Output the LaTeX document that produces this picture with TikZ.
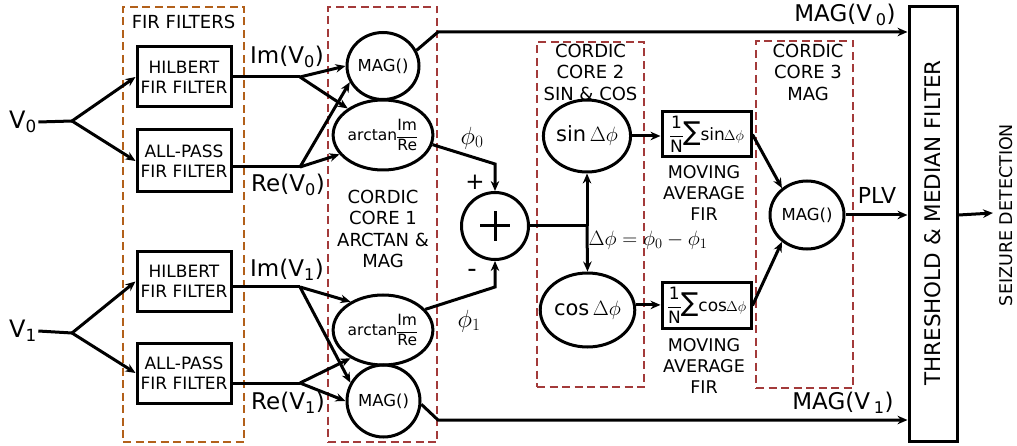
\documentclass[tikz,border=0pt]{standalone}
\usepackage{fontspec}
\setmainfont{DejaVu Sans}
\usetikzlibrary{shapes.geometric,arrows.meta}
\definecolor{firc}{RGB}{178,96,26}
\definecolor{cordc}{RGB}{163,58,58}
\begin{document}
\begin{tikzpicture}[x=1pt,y=-1pt,line width=3pt,
  >={Stealth[length=10pt,width=8.5pt]},
  fbox/.style={draw,line width=3pt,minimum width=94pt,inner sep=0pt,align=center,font=\fontsize{17}{20}\selectfont},
  ell/.style={draw,ellipse,inner sep=0pt,line width=3pt,font=\fontsize{16.5}{18}\selectfont},
  mabox/.style={draw,line width=3pt,minimum width=89pt,minimum height=45pt,inner sep=0pt,font=\fontsize{17}{17}\selectfont},
  grp/.style={draw,dash pattern=on 8pt off 4.5pt,line width=2.8pt,inner sep=0pt},
  lbl/.style={align=center,inner sep=0pt},
  sig/.style={inner sep=0pt,font=\fontsize{23}{25}\selectfont},
  glbl/.style={align=center,inner sep=0pt,font=\fontsize{18}{21.5}\selectfont},
  conn/.style={line width=3pt}]
\useasboundingbox (0,0) rectangle (1017,446);
% group boxes
\node[grp,draw=firc,minimum width=121pt,minimum height=435pt] (firg) at (183.5,224.5) {};
\node[grp,draw=cordc,minimum width=109pt,minimum height=435pt] (core1) at (382.5,224.5) {};
\node[grp,draw=cordc,minimum width=107pt,minimum height=345pt] (core2) at (590.5,214.5) {};
\node[grp,draw=cordc,minimum width=97pt,minimum height=347pt] (core3) at (804.5,214.5) {};
\node[glbl] (firl) at (183.5,22) {FIR FILTERS};
\node[glbl] (c1l) at (383,229) {CORDIC\\CORE 1\\ARCTAN \&\\MAG};
\node[glbl] (c2l) at (590.5,72) {CORDIC\\CORE 2\\SIN \& COS};
\node[glbl] (c3l) at (808,72) {CORDIC\\CORE 3\\MAG};
% inputs
\node[lbl,font=\fontsize{24}{26}\selectfont] (v0) at (23,122) {V\textsubscript{0}};
\node[lbl,font=\fontsize{24}{26}\selectfont] (v1) at (23,331) {V\textsubscript{1}};
\coordinate (b0) at (72,121);
\coordinate (b1) at (72,333);
% filter boxes
\node[fbox,minimum height=60pt] (hil0) at (184,77) {HILBERT\\FIR FILTER};
\node[fbox,minimum height=62pt] (ap0) at (184,161) {ALL-PASS\\FIR FILTER};
\node[fbox,minimum height=59pt] (hil1) at (184,281.5) {HILBERT\\FIR FILTER};
\node[fbox,minimum height=60pt] (ap1) at (184,373) {ALL-PASS\\FIR FILTER};
\coordinate (im0) at (300,77);
\coordinate (re0) at (300,167);
\coordinate (im1) at (300,287);
\coordinate (re1) at (300,383);
\node[sig] (im0l) at (287,57) {Im(V\textsubscript{0})};
\node[sig] (re0l) at (288,185) {Re(V\textsubscript{0})};
\node[sig] (im1l) at (287,270) {Im(V\textsubscript{1})};
\node[sig] (re1l) at (288,403) {Re(V\textsubscript{1})};
% cordic core 1
\node[ell,minimum width=72pt,minimum height=67pt] (mag0) at (383,66) {MAG()};
\node[ell,minimum width=83pt,minimum height=70pt,font=\fontsize{15.5}{17}\selectfont] (arc0) at (383,135) {arctan\hspace{-1pt}$\displaystyle\frac{\mbox{Im}}{\mbox{Re}}$};
\node[ell,minimum width=83pt,minimum height=70pt,font=\fontsize{15.5}{17}\selectfont] (arc1) at (383,330) {arctan\hspace{-1pt}$\displaystyle\frac{\mbox{Im}}{\mbox{Re}}$};
\node[ell,minimum width=73pt,minimum height=72pt] (mag1) at (383.5,401) {MAG()};
% sum
\node[draw,circle,minimum size=67pt,inner sep=0pt,line width=3pt,
  path picture={\draw[line width=3pt] (path picture bounding box.center) ++(-15pt,0pt) -- ++(30pt,0pt);
                \draw[line width=3pt] (path picture bounding box.center) ++(0pt,-15pt) -- ++(0pt,30pt);}] (sum) at (495,226) {};
\node[lbl,font=\fontsize{26}{28}\selectfont] (phi0) at (472,138) {$\phi_0$};
\node[lbl,font=\fontsize{26}{28}\selectfont] (phi1) at (469,321) {$\phi_1$};
\node[lbl,font=\fontsize{23}{24}\selectfont] (plus) at (475,182) {+};
\node[lbl,font=\fontsize{26}{24}\selectfont] (minus) at (472,273) {-};
\coordinate (c0) at (495,164);
\coordinate (c1) at (495,287);
\coordinate (j) at (587,226);
\node[lbl,font=\fontsize{21}{22}\selectfont] (deq) at (648,240) {$\Delta\phi=\phi_0-\phi_1$};
% cordic core 2
\node[ell,minimum width=80pt,minimum height=72pt,font=\fontsize{21}{23}\selectfont] (sinc) at (587,136) {sin\,$\Delta\phi$};
\node[ell,minimum width=79pt,minimum height=74pt,font=\fontsize{21}{23}\selectfont] (cosc) at (587.5,310) {cos\,$\Delta\phi$};
% moving average
\node[mabox] (sinb) at (706.5,134.5) {$\displaystyle\frac{\mbox{1}}{\mbox{N}}$\hspace{-1pt}{\fontsize{26}{26}\selectfont ∑}sin\hspace{-1pt}{\fontsize{15}{15}\selectfont$\Delta\phi$}};
\node[mabox] (cosb) at (706.5,305.5) {$\displaystyle\frac{\mbox{1}}{\mbox{N}}$\hspace{-1pt}{\fontsize{26}{26}\selectfont ∑}cos\hspace{-1pt}{\fontsize{15}{15}\selectfont$\Delta\phi$}};
\node[lbl,font=\fontsize{17.5}{21}\selectfont] (mal0) at (704,193) {MOVING\\AVERAGE\\FIR};
\node[lbl,font=\fontsize{17.5}{21}\selectfont] (mal1) at (704,366) {MOVING\\AVERAGE\\FIR};
% cordic core 3
\node[ell,minimum width=74pt,minimum height=68pt] (magc) at (807,215) {MAG()};
\node[sig,font=\fontsize{22}{24}\selectfont] (plvl) at (877,195) {PLV};
% threshold
\node[draw,line width=3pt,minimum width=48pt,minimum height=434pt,inner sep=0pt] (thr) at (933,224) {};
\node[lbl,rotate=90,font=\fontsize{21.5}{24}\selectfont] (thrl) at (933,223) {THRESHOLD \& MEDIAN FILTER};
\node[lbl,rotate=90,font=\fontsize{17.5}{20}\selectfont] (sdl) at (1006,215) {SEIZURE DETECTION};
\coordinate (sd) at (993,213);
\node[lbl,font=\fontsize{23}{25}\selectfont] (m0l) at (845,15) {MAG(V\,\textsubscript{0})};
\node[lbl,font=\fontsize{23}{25}\selectfont] (m1l) at (843,403) {MAG(V\,\textsubscript{1})};
\coordinate (k0) at (438,32);
\coordinate (k1) at (438,420);
% connectors
\draw[conn] (v0.east) -- (b0);
\draw[conn,->] (b0) -- (hil0.west);
\draw[conn,->] (b0) -- (ap0.west);
\draw[conn] (v1.east) -- (b1);
\draw[conn,->] (b1) -- (hil1.west);
\draw[conn,->] (b1) -- (ap1.west);
\draw[conn] (hil0.east |- im0) -- (im0);
\draw[conn] (ap0.east |- re0) -- (re0);
\draw[conn] (hil1.east |- im1) -- (im1);
\draw[conn] (ap1.east |- re1) -- (re1);
\draw[conn,->] (im0) -- (mag0.180);
\draw[conn,->] (im0) -- (arc0.143);
\draw[conn,->] (re0) -- (mag0.206);
\draw[conn,->] (re0) -- (arc0.204);
\draw[conn,->] (im1) -- (arc1.139);
\draw[conn,->] (im1) -- (mag1.151);
\draw[conn,->] (re1) -- (arc1.221);
\draw[conn,->] (re1) -- (mag1.180);
\draw[conn,->] (mag0.25) -- (k0) -- (k0 -| thr.west);
\draw[conn,->] (mag1.-5) -- (k1) -- (k1 -| thr.west);
\draw[conn,->] (arc0.-11) -- (c0) -- (sum.north);
\draw[conn,->] (arc1.26) -- (c1) -- (sum.south);
\draw[conn] (sum.east) -- (j);
\draw[conn,->] (j) -- (sinc.south);
\draw[conn,->] (j) -- (cosc.north);
\draw[conn,->] (sinc.east) -- (sinc.east -| sinb.west);
\draw[conn,->] (cosc.6) -- (cosc.6 -| cosb.west);
\draw[conn,->] (sinb.east) -- (magc.133);
\draw[conn,->] (cosb.east) -- (magc.227);
\draw[conn,->] (magc.east) -- (magc.east -| thr.west);
\draw[conn,->] (thr.east |- magc.east) -- (sd);
\end{tikzpicture}
\end{document}
